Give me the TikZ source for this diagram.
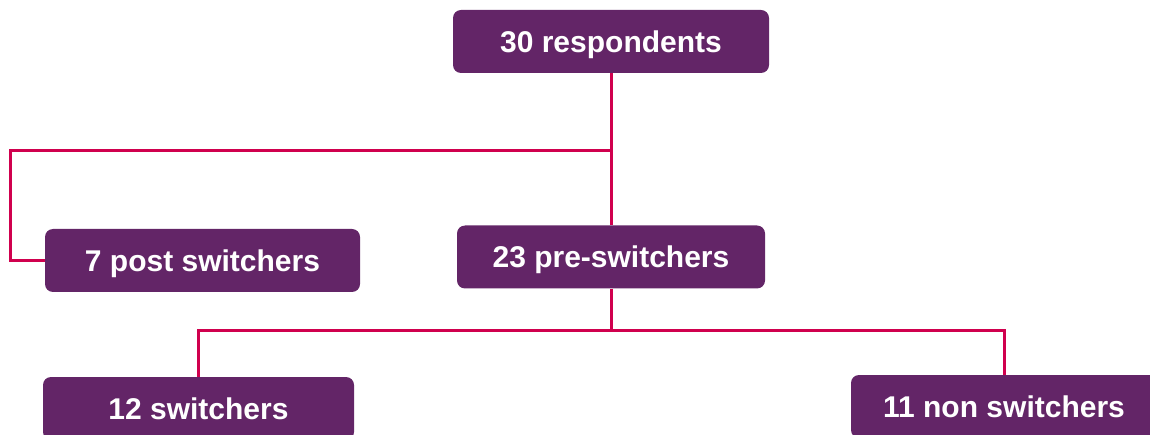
\documentclass[tikz,border=0pt]{standalone}
\usepackage{fontspec}
\setmainfont{Liberation Sans}
\usepackage{xcolor}
\definecolor{boxpurple}{RGB}{99,37,103}
\definecolor{linkred}{RGB}{208,0,78}

\begin{document}
\begin{tikzpicture}[x=1pt, y=-1pt,
  groupbox/.style={fill=boxpurple, rounded corners=8pt, text=white,
    font=\fontsize{30}{34}\selectfont\bfseries, inner sep=0pt,
    text height=21.5pt, text depth=0pt, minimum height=63pt},
  link/.style={draw=linkred, line width=3pt}]
  \useasboundingbox (0,0) rectangle (1150,435);
  \clip (0,0) rectangle (1150,435);
  % boxes
  \node[groupbox, minimum width=316pt] (resp) at (611,41.5) {30 respondents};
  \node[groupbox, minimum width=315pt] (post) at (202.5,260.5) {7 post switchers};
  \node[groupbox, minimum width=308pt] (pre) at (611,257) {23 pre-switchers};
  \node[groupbox, minimum width=311pt] (sw) at (198.5,408.5) {12 switchers};
  \node[groupbox, minimum width=306pt] (nsw) at (1004,406.5) {11 non switchers};
  % branch points
  \coordinate (split1) at (611,151);
  \coordinate (lefttop) at (10,151);
  \coordinate (split2) at (611,330);
  % links
  \draw[link] (resp.south) -- (pre.north);
  \draw[link] (split1) -- (lefttop) |- (post.west);
  \draw[link] (pre.south) -- (split2);
  \draw[link] (split2) -| (sw.north);
  \draw[link] (split2) -| (nsw.north);
\end{tikzpicture}
\end{document}
